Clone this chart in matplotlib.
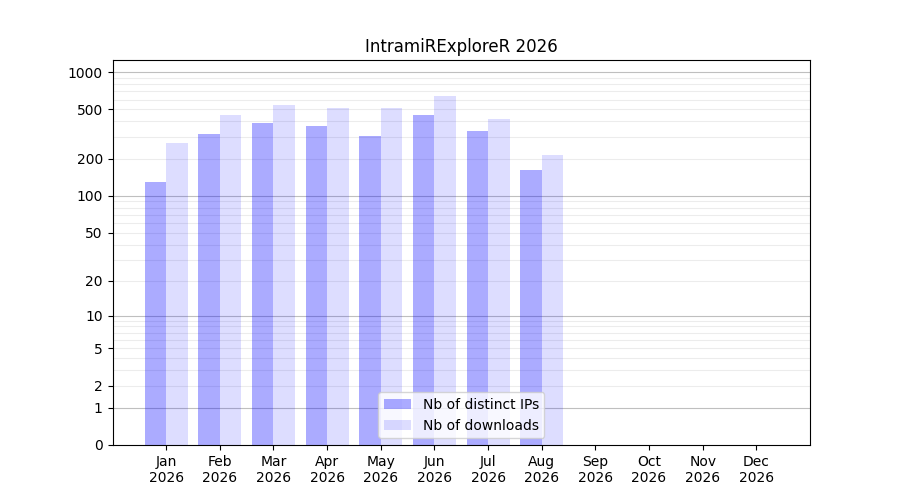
import numpy as np
import matplotlib
matplotlib.use("Agg")
import matplotlib.pyplot as plt

months = ["Jan", "Feb", "Mar", "Apr", "May", "Jun", "Jul", "Aug", "Sep", "Oct", "Nov", "Dec"]
year = "2026"
ips = [130, 317, 388, 367, 305, 451, 335, 162]
downloads = [268, 451, 543, 514, 514, 642, 419, 214]
ytick_vals = [0, 1, 2, 5, 10, 20, 50, 100, 200, 500, 1000]

fig, ax = plt.subplots(figsize=(9, 5), dpi=100)

def fwd(y):
    return np.log10(1 + np.clip(y, 0, None))

def inv(y):
    return 10 ** y - 1

ax.set_yscale("function", functions=(fwd, inv))

x = np.arange(len(ips))
ax.bar(x - 0.2, ips, width=0.4, color="blue", alpha=0.33, label="Nb of distinct IPs", zorder=2)
ax.bar(x + 0.2, downloads, width=0.4, color="blue", alpha=0.133, label="Nb of downloads", zorder=2)

# gridlines
for dec in [1, 10, 100, 1000]:
    ax.axhline(dec, color="gray", alpha=0.5, linewidth=0.8, zorder=1)
    for m in range(2, 10):
        v = dec * m
        if v < 1250:
            ax.axhline(v, color="gray", alpha=0.15, linewidth=0.8, zorder=1)

ax.set_ylim(0, 1250)
ax.set_xlim(-1, 12)
ax.set_yticks(ytick_vals)
ax.set_yticklabels([str(v) for v in ytick_vals])
ax.minorticks_off()
ax.set_xticks(np.arange(12))
ax.set_xticklabels([f"{m}\n{year}" for m in months])
ax.set_title("IntramiRExploreR 2026")
ax.legend(loc="lower center")

fig.savefig("out.png", dpi=100)
